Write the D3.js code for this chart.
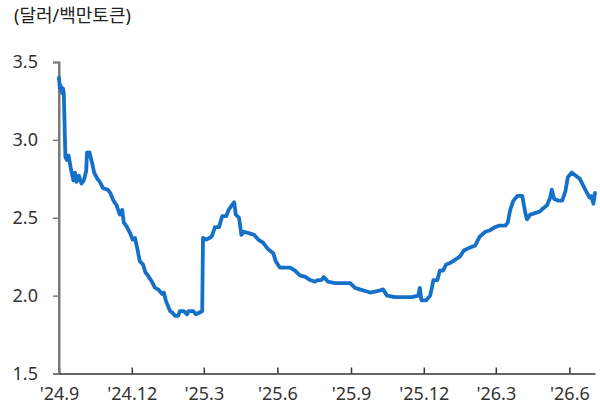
<!DOCTYPE html>
<html>
<head>
<meta charset="utf-8">
<script src="https://cdn.jsdelivr.net/npm/d3@7"></script>
<style>
  html, body { margin: 0; padding: 0; background: #fff; }
  svg { display: block; }
  text { font-family: "Noto Sans", "Noto Sans CJK KR", sans-serif; }
</style>
</head>
<body>
<svg id="chart" width="600" height="405"></svg>
<script>
// Price per million tokens (USD)
const dates = [
  "2024-09-01","2024-09-02","2024-09-03","2024-09-05","2024-09-06","2024-09-07","2024-09-09","2024-09-11",
  "2024-09-13","2024-09-16","2024-09-19","2024-09-21","2024-09-23","2024-09-26","2024-09-29","2024-10-02",
  "2024-10-05","2024-10-06","2024-10-09","2024-10-12","2024-10-15","2024-10-19","2024-10-22","2024-10-26",
  "2024-11-01","2024-11-04","2024-11-08","2024-11-12","2024-11-16","2024-11-19","2024-11-21","2024-11-25",
  "2024-11-29","2024-12-02","2024-12-05","2024-12-08","2024-12-11","2024-12-15","2024-12-18","2024-12-21",
  "2024-12-26","2024-12-30","2025-01-03","2025-01-08","2025-01-10","2025-01-13","2025-01-18","2025-01-21",
  "2025-01-24","2025-01-28","2025-01-30","2025-02-04","2025-02-08","2025-02-10","2025-02-16","2025-02-19",
  "2025-02-23","2025-02-27","2025-02-28","2025-03-04","2025-03-08","2025-03-11","2025-03-15","2025-03-20",
  "2025-03-24","2025-03-29","2025-04-01","2025-04-05","2025-04-08","2025-04-10","2025-04-14","2025-04-17",
  "2025-04-20","2025-04-27","2025-05-03","2025-05-08","2025-05-14","2025-05-20","2025-05-27","2025-05-30",
  "2025-06-04","2025-06-17","2025-06-23","2025-06-29","2025-07-06","2025-07-12","2025-07-18","2025-07-22",
  "2025-07-26","2025-07-29","2025-08-03","2025-08-12","2025-08-21","2025-08-31","2025-09-06","2025-09-12",
  "2025-09-25","2025-10-05","2025-10-11","2025-10-16","2025-10-26","2025-11-08","2025-11-16","2025-11-24",
  "2025-11-26","2025-11-28","2025-12-04","2025-12-09","2025-12-13","2025-12-18","2025-12-21","2025-12-25",
  "2025-12-29","2026-01-03","2026-01-09","2026-01-15","2026-01-20","2026-01-28","2026-02-03","2026-02-09",
  "2026-02-16","2026-02-22","2026-02-28","2026-03-06","2026-03-13","2026-03-16","2026-03-19","2026-03-23",
  "2026-03-28","2026-04-03","2026-04-07","2026-04-09","2026-04-13","2026-04-19","2026-04-25","2026-04-29",
  "2026-05-04","2026-05-08","2026-05-10","2026-05-13","2026-05-18","2026-05-23","2026-05-27","2026-05-30",
  "2026-06-04","2026-06-09","2026-06-14","2026-06-18","2026-06-22","2026-06-26","2026-06-28","2026-07-01",
  "2026-07-03"
];
const prices = [
  3.40,3.33,3.35,3.30,3.33,3.30,2.89,2.87,
  2.90,2.81,2.74,2.79,2.73,2.77,2.72,2.74,
  2.80,2.92,2.92,2.86,2.79,2.75,2.73,2.69,
  2.68,2.66,2.61,2.58,2.52,2.55,2.47,2.44,
  2.40,2.36,2.37,2.30,2.22,2.20,2.15,2.13,
  2.09,2.05,2.04,2.01,2.02,1.96,1.90,1.89,
  1.87,1.87,1.90,1.90,1.88,1.90,1.90,1.88,
  1.89,1.90,2.37,2.36,2.37,2.38,2.44,2.44,
  2.51,2.51,2.55,2.58,2.60,2.52,2.50,2.39,
  2.41,2.40,2.39,2.36,2.34,2.30,2.27,2.22,
  2.18,2.18,2.16,2.13,2.12,2.10,2.09,2.10,
  2.10,2.12,2.09,2.08,2.08,2.08,2.05,2.04,
  2.02,2.03,2.04,2.00,1.99,1.99,1.99,2.00,
  2.05,1.97,1.97,2.00,2.10,2.10,2.16,2.16,
  2.20,2.21,2.23,2.25,2.29,2.31,2.32,2.38,
  2.41,2.42,2.44,2.45,2.45,2.47,2.55,2.61,
  2.64,2.64,2.53,2.49,2.52,2.53,2.54,2.56,
  2.58,2.63,2.68,2.62,2.61,2.61,2.67,2.76,
  2.79,2.77,2.75,2.71,2.67,2.63,2.64,2.59,
  2.66
];

const xTickDates = ["2024-09-01","2024-12-01","2025-03-01","2025-06-01","2025-09-01","2025-12-01","2026-03-01","2026-06-01"];
const xTickLabels = ["'24.9","'24.12","'25.3","'25.6","'25.9","'25.12","'26.3","'26.6"];
const yTicks = [1.5, 2.0, 2.5, 3.0, 3.5];
const unitLabel = "(달러/백만토큰)";

const parse = d3.utcParse("%Y-%m-%d");
const series = dates.map((d, i) => ({ date: parse(d), value: prices[i] }));

const svg = d3.select("#chart");
const plotLeft = 59, plotRight = 595, plotTop = 62, plotBottom = 373.5;
const labelFont = "'Noto Sans', 'Noto Sans CJK KR', sans-serif";

const x = d3.scaleUtc()
  .domain([parse("2024-09-01"), parse("2026-07-03")])
  .range([plotLeft, plotRight]);
const y = d3.scaleLinear()
  .domain([1.5, 3.5])
  .range([plotBottom, plotTop]);

// unit label
svg.append("text")
  .attr("x", 14)
  .attr("y", 22)
  .attr("font-size", 18)
  .attr("font-family", "'Noto Sans CJK KR', sans-serif")
  .attr("fill", "#222")
  .text(unitLabel);

// y axis
const yAxis = svg.append("g")
  .attr("transform", `translate(${plotLeft},0)`)
  .call(d3.axisLeft(y).tickValues(yTicks).tickFormat(d3.format(".1f")).tickSize(6).tickPadding(15));
yAxis.select(".domain").attr("stroke", "#7a7a7a").attr("stroke-width", 2);
yAxis.selectAll(".tick line").attr("stroke", "#7a7a7a").attr("stroke-width", 1.5);
yAxis.selectAll(".tick text").attr("font-size", 18).attr("fill", "#333")
  .attr("font-family", labelFont);

// x axis
const tickMap = new Map(xTickDates.map((d, i) => [+parse(d), xTickLabels[i]]));
const xAxis = svg.append("g")
  .attr("transform", `translate(0,${plotBottom})`)
  .call(d3.axisBottom(x)
    .tickValues(xTickDates.map(parse))
    .tickFormat(d => tickMap.get(+d))
    .tickSize(6).tickPadding(8)
    .tickSizeOuter(0));
xAxis.select(".domain").attr("stroke", "#333").attr("stroke-width", 1.5);
xAxis.selectAll(".tick line").attr("stroke", "#333").attr("stroke-width", 1.5)
  .attr("y1", -6).attr("y2", 0);
xAxis.selectAll(".tick text").attr("font-size", 18).attr("fill", "#333")
  .attr("font-family", labelFont);

// y axis line drawn over the axis join
svg.append("line")
  .attr("x1", plotLeft).attr("x2", plotLeft)
  .attr("y1", plotTop).attr("y2", plotBottom)
  .attr("stroke", "#7a7a7a").attr("stroke-width", 2);

// price line
const line = d3.line()
  .x(d => x(d.date))
  .y(d => y(d.value));
svg.append("path")
  .datum(series)
  .attr("fill", "none")
  .attr("stroke", "#1570c9")
  .attr("stroke-width", 3.8)
  .attr("stroke-linejoin", "round")
  .attr("stroke-linecap", "round")
  .attr("d", line);
</script>
</body>
</html>
